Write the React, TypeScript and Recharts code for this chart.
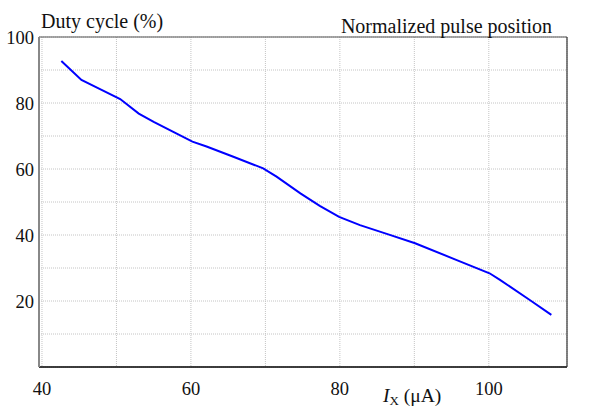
import React from 'react';
import { LineChart, Line, XAxis, YAxis, CartesianGrid, Label } from 'recharts';

// I_X (uA) vs duty cycle (%)
const currentUA = [42.6, 45.3, 48, 50.5, 53, 55, 57.5, 60.2, 62.1, 65.7, 69.7, 71.5, 74.7, 77.3, 79.9, 82.7, 86.5, 90.1, 95.7, 100.1, 101.5, 105.5, 108.4];
const dutyCycle = [92.7, 87.0, 84.0, 81.2, 76.8, 74.3, 71.4, 68.3, 66.8, 63.7, 60.2, 57.7, 52.6, 48.8, 45.5, 43.0, 40.2, 37.5, 32.4, 28.4, 26.4, 20.3, 15.8];

const xTicks = [40, 50, 60, 70, 80, 90, 100];
const xLabelTicks = [40, 60, 80, 100];
const leftTicks = [10, 20, 30, 40, 50, 60, 70, 80, 90, 100];
const leftLabelTicks = [20, 40, 60, 80, 100];
const rightTicks = [0.1, 0.3, 0.5, 0.7, 0.9];

const data = currentUA.map((x, i) => ({ x, duty: dutyCycle[i] }));

const FONT = 'Liberation Serif, Times New Roman, Times, serif';
const tickStyle = { fontSize: 18.5, fill: '#111', fontFamily: FONT, style: { fontFamily: FONT } };

export default function App() {
  return (
    <div style={{ position: 'absolute', left: 0, top: 0, background: '#fff', fontFamily: FONT }}>
      <LineChart
        width={599}
        height={407}
        data={data}
        margin={{ top: 36, right: 31, bottom: 39, left: 38 }}
        style={{ fontFamily: FONT }}
      >
        <CartesianGrid yAxisId="left" stroke="#c4c4c4" strokeDasharray="1 1" />
        <XAxis
          dataKey="x"
          type="number"
          domain={[39.6, 110.5]}
          ticks={xTicks}
          allowDataOverflow
          height={1}
          tickSize={0}
          tickMargin={15}
          tickLine={false}
          axisLine={{ stroke: '#000', strokeWidth: 1.5 }}
          tick={tickStyle}
          tickFormatter={(v) => (xLabelTicks.includes(v) ? String(v) : '')}
        >
          <Label
            content={() => (
              <text x={383} y={402} style={{ fontFamily: FONT }} fontSize={19.5} fill="#111">
                <tspan fontStyle="italic">I</tspan>
                <tspan fontSize={13} dy={3}>X</tspan>
                <tspan dy={-3}> (μA)</tspan>
              </text>
            )}
          />
        </XAxis>
        <XAxis
          xAxisId="top"
          orientation="top"
          type="number"
          domain={[39.6, 110.5]}
          height={1}
          tick={false}
          tickLine={false}
          axisLine={{ stroke: '#555', strokeWidth: 1.2 }}
        />
        <YAxis
          yAxisId="left"
          type="number"
          domain={[0, 100]}
          ticks={leftTicks}
          width={1}
          tickSize={0}
          tickMargin={5}
          tickLine={false}
          axisLine={{ stroke: '#888', strokeWidth: 2 }}
          tick={tickStyle}
          tickFormatter={(v) => (leftLabelTicks.includes(v) ? String(v) : '')}
        >
          <Label
            content={() => (
              <text x={41} y={27.5} style={{ fontFamily: FONT }} fontSize={20} fill="#111">
                Duty cycle (%)
              </text>
            )}
          />
        </YAxis>
        <YAxis
          yAxisId="right"
          orientation="right"
          type="number"
          domain={[0, 1]}
          ticks={rightTicks}
          width={1}
          tickSize={0}
          tickMargin={6}
          tickLine={false}
          axisLine={{ stroke: '#333', strokeWidth: 1.2 }}
          tick={tickStyle}
        >
          <Label
            content={() => (
              <text x={552} y={33} textAnchor="end" style={{ fontFamily: FONT }} fontSize={20} fill="#111">
                Normalized pulse position
              </text>
            )}
          />
        </YAxis>
        <Line
          yAxisId="left"
          type="linear"
          dataKey="duty"
          stroke="#0000ff"
          strokeWidth={2}
          dot={false}
          isAnimationActive={false}
        />
      </LineChart>
    </div>
  );
}
